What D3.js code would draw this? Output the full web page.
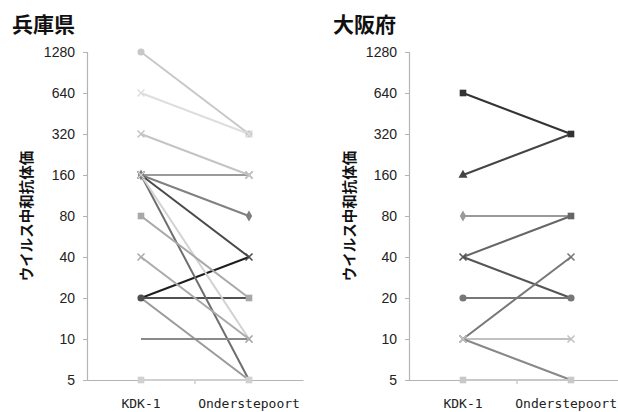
<!DOCTYPE html>
<html><head><meta charset="utf-8">
<script src="https://cdn.jsdelivr.net/npm/d3@7"></script>
<style>
body{margin:0;background:#fff;}
svg{display:block;}
</style></head>
<body>
<svg id="c" width="618" height="412"></svg>
<script>
// ---- data ----
const categories = ["KDK-1", "Onderstepoort"];
const yTicks = [5, 10, 20, 40, 80, 160, 320, 640, 1280];
const panelTitles = ["兵庫県", "大阪府"];
const yLabel = "ウイルス中和抗体価";

// 兵庫県: titer at KDK-1 and at Onderstepoort, one entry per sample
const hyogoKDK = [20, 20, 160, 160, 160, 160, 20, 10, 1280, 640, 320, 160, 80, 40, 5];
const hyogoOnd = [40, 20, 160, 80, 40, 5, 5, 10, 320, 320, 160, 10, 20, 10, 5];

// 大阪府
const osakaKDK = [160, 640, 80, 40, 40, 20, 10, 10, 10, 5];
const osakaOnd = [320, 320, 80, 80, 20, 20, 40, 10, 5, 5];

// ---- styles (marker at KDK-1 end, marker at Onderstepoort end) ----
const hyogoColors = ["#1e1e1e", "#505050", "#9a9a9a", "#808080", "#4a4a4a", "#6e6e6e", "#9a9a9a", "#8a8a8a", "#c8c8c8", "#dedede", "#c4c4c4", "#d2d2d2", "#a8a8a8", "#aaaaaa", "#d0d0d0"];
const hyogoMarkers = [["none","none"], ["circle","none"], ["x","x"], ["diamond","diamond"], ["x","x"], ["none","none"], ["none","none"], ["none","none"], ["circle","circle"], ["x","x"], ["x","x"], ["x","x"], ["square","square"], ["x","x"], ["square","square"]];
const osakaColors = ["#444444", "#333333", "#9a9a9a", "#666666", "#555555", "#777777", "#777777", "#c0c0c0", "#888888", "#c8c8c8"];
const osakaMarkers = [["triangle","none"], ["square","square"], ["diamond","none"], ["none","square"], ["x","none"], ["circle","circle"], ["x","x"], ["x","x"], ["none","none"], ["square","square"]];

const svg = d3.select("#c");
const y = d3.scaleLog().base(2).domain([5, 1280]).range([380, 52]);

function marker(g, type, cx, cy, color) {
  if (type === "none") return;
  if (type === "x") {
    const s = 3.5;
    g.append("path")
      .attr("d", `M${cx - s},${cy - s}L${cx + s},${cy + s}M${cx - s},${cy + s}L${cx + s},${cy - s}`)
      .attr("stroke", color).attr("stroke-width", 1.5).attr("fill", "none");
    return;
  }
  const map = {circle: d3.symbolCircle, square: d3.symbolSquare, diamond: d3.symbolDiamond, triangle: d3.symbolTriangle};
  const size = {circle: 40, square: 44, diamond: 36, triangle: 36}[type];
  g.append("path")
    .attr("d", d3.symbol().type(map[type]).size(size)())
    .attr("transform", `translate(${cx},${cy})`)
    .attr("fill", color);
}

function panel(opts) {
  const g = svg.append("g");
  const x = d3.scaleBand().domain(categories).range([opts.x0, opts.x0 + 216]);
  const cx = c => x(c) + x.bandwidth() / 2;

  // title
  g.append("text").attr("x", opts.titleX).attr("y", 32)
    .attr("font-family", "'Noto Sans CJK JP', sans-serif")
    .attr("font-size", 21).attr("font-weight", "bold").attr("fill", "#111")
    .text(opts.title);

  // y label
  g.append("text")
    .attr("transform", `translate(${opts.labelX},216) rotate(-90)`)
    .attr("text-anchor", "middle").attr("dominant-baseline", "central")
    .attr("font-family", "'Noto Sans CJK JP', sans-serif")
    .attr("font-size", 14.5).attr("font-weight", "bold").attr("fill", "#111")
    .text(yLabel);

  // y axis
  const ya = g.append("g").attr("transform", `translate(${opts.x0},0)`)
    .call(d3.axisLeft(y).tickValues(yTicks).tickFormat(d3.format("d")).tickSize(4).tickPadding(8));
  ya.select(".domain").attr("stroke", "#b4b4b4").attr("stroke-width", 1.2);
  ya.selectAll(".tick line").attr("stroke", "#b4b4b4");
  ya.selectAll(".tick text").attr("font-family", "'Liberation Sans', Arial, sans-serif")
    .attr("font-size", 14).attr("fill", "#222");

  // x axis
  const xa = g.append("g").attr("transform", `translate(0,${y(5)})`)
    .call(d3.axisBottom(x).tickSize(0).tickPadding(19));
  xa.select(".domain").attr("stroke", "#b4b4b4").attr("stroke-width", 1.2);
  xa.selectAll(".tick text").attr("font-family", "'DejaVu Sans Mono', monospace")
    .attr("font-size", 13).attr("fill", "#222");
  if (opts.fitRight) {
    // keep the last category label inside the page
    xa.selectAll(".tick text").filter(d => d === categories[1])
      .attr("text-anchor", "end").attr("x", 617 - cx(categories[1]));
  }
  g.append("line").attr("x1", opts.x0 + 108).attr("x2", opts.x0 + 108)
    .attr("y1", y(5)).attr("y2", y(5) + 4).attr("stroke", "#b4b4b4");

  // lines, then markers
  const x1 = cx(categories[0]), x2 = cx(categories[1]);
  opts.a.forEach((v, i) => {
    g.append("line").attr("x1", x1).attr("y1", y(v)).attr("x2", x2).attr("y2", y(opts.b[i]))
      .attr("stroke", opts.colors[i]).attr("stroke-width", 2);
  });
  opts.a.forEach((v, i) => {
    marker(g, opts.markers[i][0], x1, y(v), opts.colors[i]);
    marker(g, opts.markers[i][1], x2, y(opts.b[i]), opts.colors[i]);
  });
}

panel({x0: 87, titleX: 12, labelX: 25, title: panelTitles[0], a: hyogoKDK, b: hyogoOnd, colors: hyogoColors, markers: hyogoMarkers});
panel({x0: 409, titleX: 333, labelX: 348, title: panelTitles[1], a: osakaKDK, b: osakaOnd, colors: osakaColors, markers: osakaMarkers, fitRight: true});
</script>
</body></html>
